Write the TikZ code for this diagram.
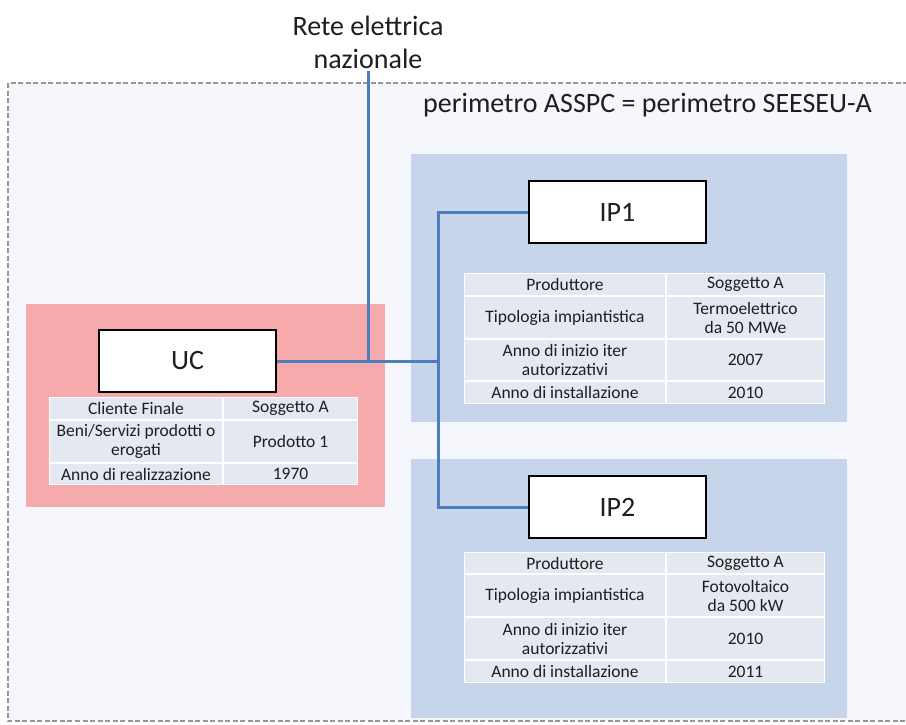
\documentclass[tikz,border=0pt]{standalone}
\usepackage{fontspec}
\setmainfont{Carlito}
\definecolor{areabg}{RGB}{245,247,252}
\definecolor{dashgray}{RGB}{150,150,150}
\definecolor{ucpink}{RGB}{246,170,171}
\definecolor{ipblue}{RGB}{198,213,234}
\definecolor{cellfill}{RGB}{228,233,241}
\definecolor{wire}{RGB}{74,126,190}
\definecolor{ink}{RGB}{30,30,30}

% one table cell: name, x1, y1, x2, y2, text
\newcommand\tcell[6]{%
  \node[cell, minimum width={(#4-#2-2)*1pt}, minimum height={(#5-#3-2)*1pt}]
    (#1) at ({(#2+#4)/2},{(#3+#5)/2}) {#6};}

\begin{document}
\begin{tikzpicture}[x=1pt,y=-1pt,
  bigtext/.style={font=\fontsize{28}{33}\selectfont, text=ink, inner sep=0pt, align=center},
  unitbox/.style={draw=black, line width=2.8pt, fill=white, minimum width=177pt,
    minimum height=62pt, inner sep=0pt, font=\fontsize{28}{33}\selectfont, text=ink},
  cell/.style={fill=cellfill, inner sep=0pt, align=center, text=ink,
    font=\fontsize{17.5}{19}\selectfont},
  wireline/.style={draw=wire, line width=3pt},
  perimeter/.style={draw=dashgray, line width=1.2pt, dash pattern=on 5pt off 2.5pt, fill=areabg}
]
\clip (0,0) rectangle (906,724);
\fill[white] (0,0) rectangle (906,724);

% system perimeter
\draw[perimeter] (8,83) rectangle (915,721);
\node[bigtext, anchor=west] (perim) at (423,105) {perimetro ASSPC = perimetro SEESEU-A};

% grid connection label
\node[bigtext] (rete) at (368,42) {Rete elettrica\\nazionale};

% coloured panels
\fill[ucpink] (26,304) rectangle (385,507);
\fill[ipblue] (411,154) rectangle (847,422);
\fill[ipblue] (411,459) rectangle (847,718);

% units
\node[unitbox] (UC) at (187.5,361) {UC};
\node[unitbox] (IP1) at (617.5,212) {IP1};
\node[unitbox] (IP2) at (617.5,507) {IP2};

% UC table
\fill[white] (49,397) rectangle (358,485);
\tcell{uca1}{49}{397}{223}{420}{Cliente Finale}
\tcell{uca2}{223}{397}{358}{420}{Soggetto A}
\tcell{ucb1}{49}{420}{223}{463}{Beni/Servizi prodotti o\\erogati}
\tcell{ucb2}{223}{420}{358}{463}{Prodotto 1}
\tcell{ucc1}{49}{463}{223}{485}{Anno di realizzazione}
\tcell{ucc2}{223}{463}{358}{485}{1970}

% IP1 table
\fill[white] (464,273) rectangle (825,404);
\tcell{pa1}{464}{273}{666}{296}{Produttore}
\tcell{pa2}{666}{273}{825}{296}{Soggetto A}
\tcell{pb1}{464}{296}{666}{339}{Tipologia impiantistica}
\tcell{pb2}{666}{296}{825}{339}{Termoelettrico\\da 50 MWe}
\tcell{pc1}{464}{339}{666}{381}{Anno di inizio iter\\autorizzativi}
\tcell{pc2}{666}{339}{825}{381}{2007}
\tcell{pd1}{464}{381}{666}{404}{Anno di installazione}
\tcell{pd2}{666}{381}{825}{404}{2010}

% IP2 table
\fill[white] (464,552) rectangle (825,683);
\tcell{qa1}{464}{552}{666}{574}{Produttore}
\tcell{qa2}{666}{552}{825}{574}{Soggetto A}
\tcell{qb1}{464}{574}{666}{617}{Tipologia impiantistica}
\tcell{qb2}{666}{574}{825}{617}{Fotovoltaico\\da 500 kW}
\tcell{qc1}{464}{617}{666}{660}{Anno di inizio iter\\autorizzativi}
\tcell{qc2}{666}{617}{825}{660}{2010}
\tcell{qd1}{464}{660}{666}{683}{Anno di installazione}
\tcell{qd2}{666}{660}{825}{683}{2011}

% electrical connections
\coordinate (tap) at (368,361);
\coordinate (bus) at (438,361);
\draw[wireline] ([yshift=-2pt]rete.south) -- (tap);
\draw[wireline] (UC.east) -- (bus);
\draw[wireline] (IP1.west) -- (IP1.west -| bus) -- (IP2.west -| bus) -- (IP2.west);
\end{tikzpicture}
\end{document}
